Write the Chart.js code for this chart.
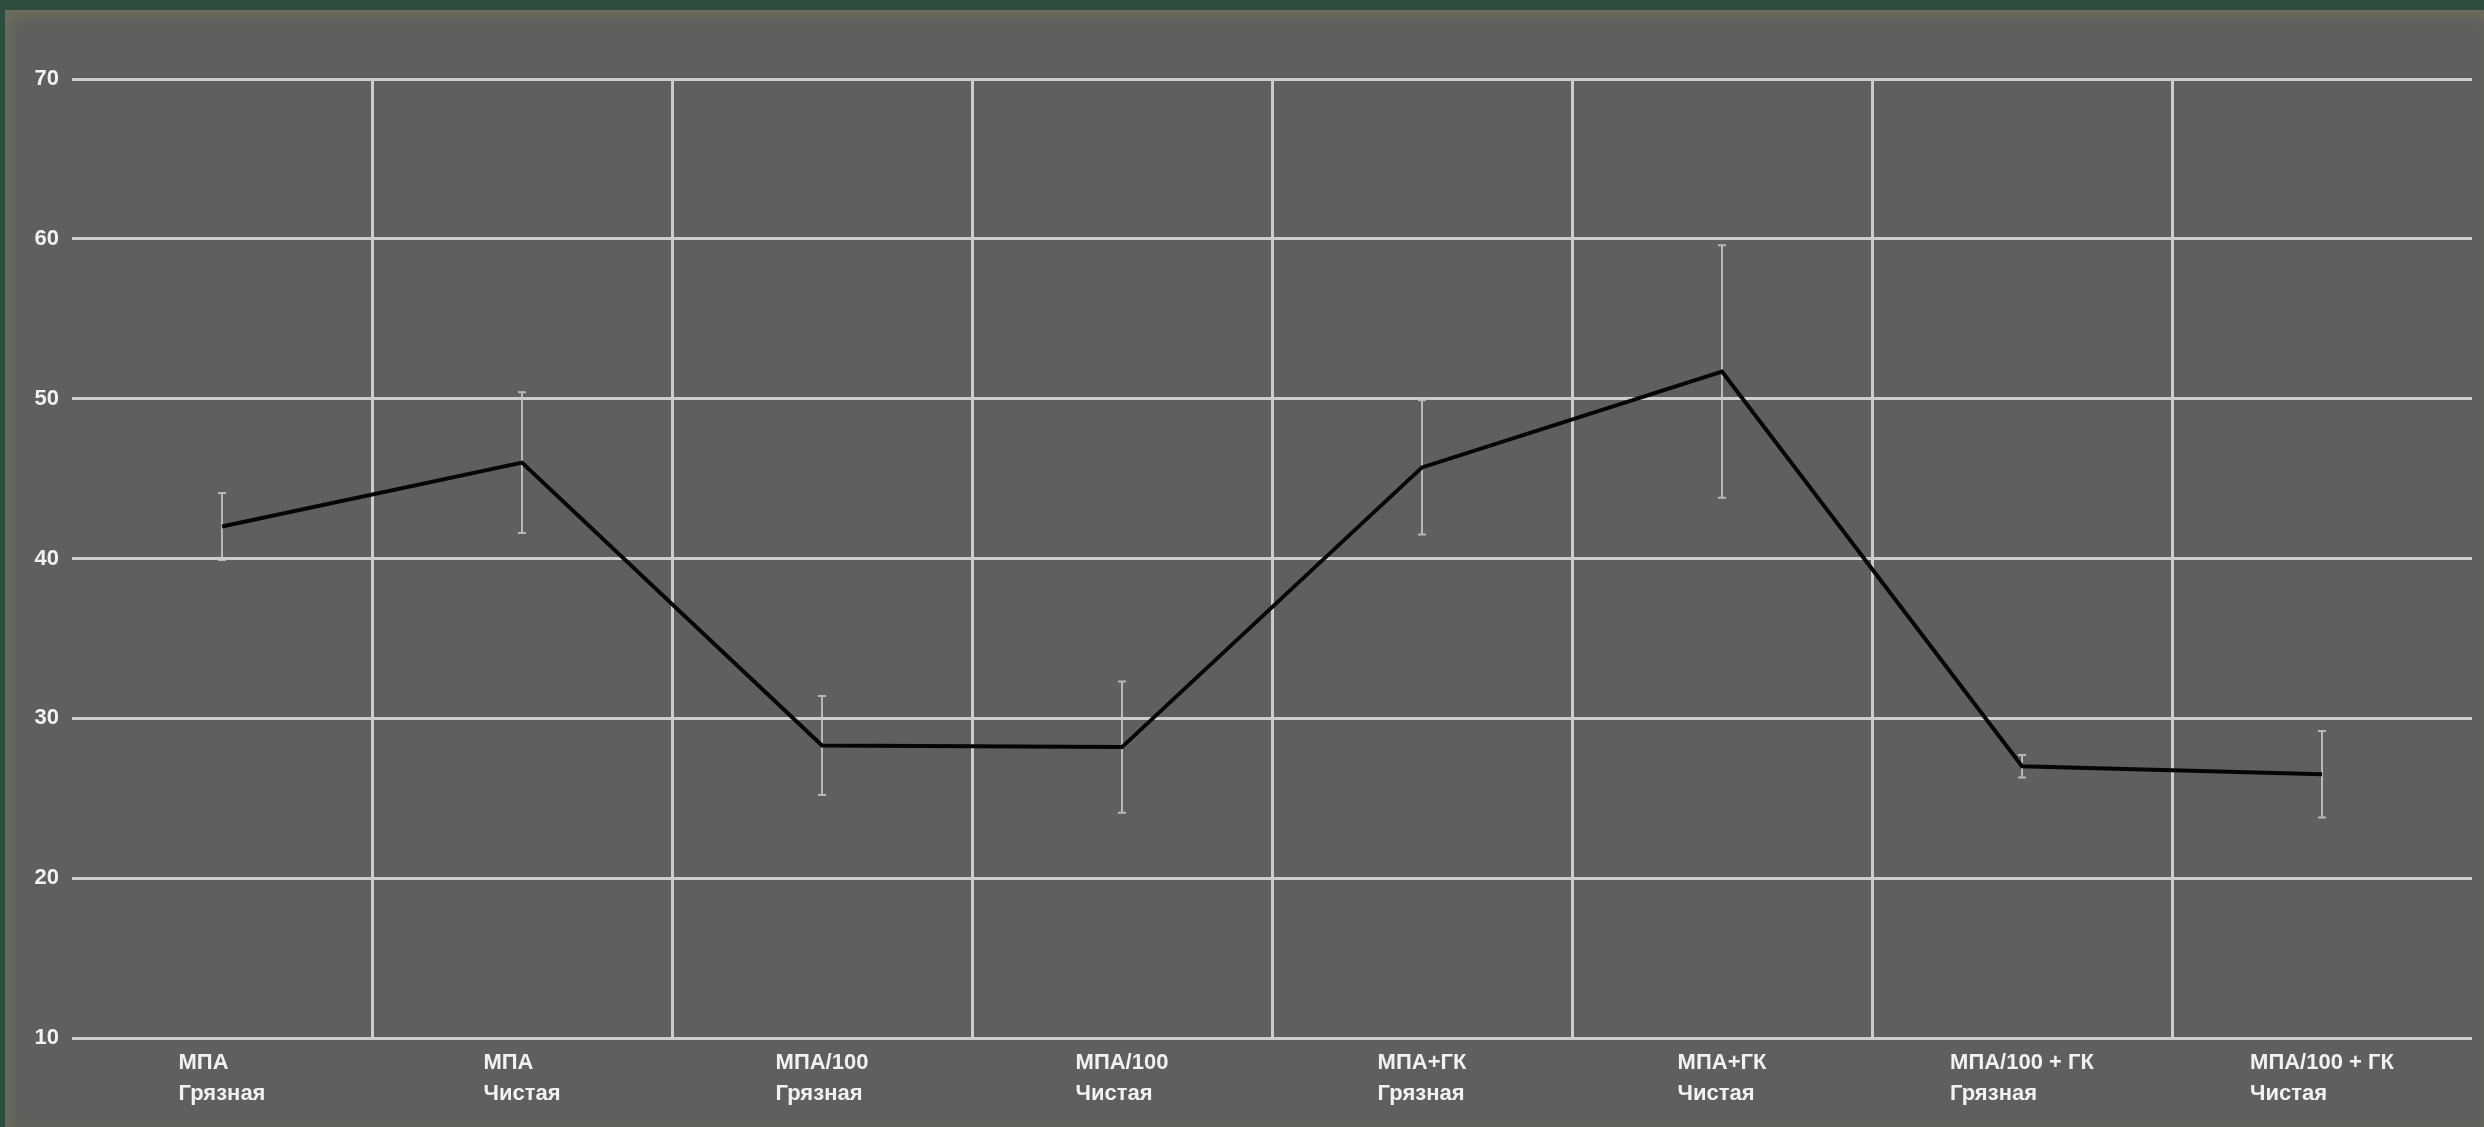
<!DOCTYPE html>
<html>
<head>
<meta charset="utf-8">
<script src="https://cdn.jsdelivr.net/npm/chart.js@4"></script>
<style>
    body {
        margin: 0;
        background: #2e4d3e;
        overflow: hidden;
    }
    .panel {
        position: absolute;
        left: 5px;
        top: 10px;
        right: 0;
        bottom: 0;
        background: #5f5f5f;
        box-shadow: inset 4px 6px 14px rgba(140, 140, 90, 0.35);
    }
    #mainChart {
        position: absolute;
        left: 0;
        top: 0;
    }
</style>
</head>
<body>
<div class="panel"></div>
<canvas id="mainChart" width="2484" height="1127"></canvas>
<script>
// Chart data
const groups = ['МПА', 'МПА', 'МПА/100', 'МПА/100', 'МПА+ГК', 'МПА+ГК', 'МПА/100 + ГК', 'МПА/100 + ГК'];
const surfaces = ['Грязная', 'Чистая', 'Грязная', 'Чистая', 'Грязная', 'Чистая', 'Грязная', 'Чистая'];
const means = [42.0, 46.0, 28.3, 28.2, 45.7, 51.7, 27.0, 26.5];
const errors = [2.1, 4.4, 3.1, 4.1, 4.2, 7.9, 0.7, 2.7];
const yTicks = [10, 20, 30, 40, 50, 60, 70];

const labels = groups.map((g, i) => [g, surfaces[i]]);
const gridColor = '#cdcdcd';
const textColor = '#f2f2f2';
const fontFamily = '"Liberation Sans", Arial, sans-serif';

// Error bars, drawn under the line
const errorBars = {
    id: 'errorBars',
    beforeDatasetsDraw(chart) {
        const c = chart.ctx;
        const x = chart.scales.x;
        const y = chart.scales.y;
        c.save();
        c.strokeStyle = 'rgba(200, 200, 200, 0.85)';
        c.lineWidth = 2;
        means.forEach((m, i) => {
            const px = x.getPixelForValue(i);
            const top = y.getPixelForValue(m + errors[i]);
            const bottom = y.getPixelForValue(m - errors[i]);
            c.beginPath();
            c.moveTo(px, top);
            c.lineTo(px, bottom);
            c.moveTo(px - 4, top);
            c.lineTo(px + 4, top);
            c.moveTo(px - 4, bottom);
            c.lineTo(px + 4, bottom);
            c.stroke();
        });
        c.restore();
    }
};

// Category labels: block centred on the tick, lines left aligned
const categoryLabels = {
    id: 'categoryLabels',
    afterDraw(chart) {
        const c = chart.ctx;
        const x = chart.scales.x;
        const base = chart.chartArea.bottom + 25;
        c.save();
        c.font = 'bold 22px ' + fontFamily;
        c.fillStyle = textColor;
        c.textAlign = 'left';
        c.textBaseline = 'middle';
        labels.forEach((lines, i) => {
            const w = Math.max(...lines.map(l => c.measureText(l).width));
            const left = x.getPixelForValue(i) - w / 2;
            lines.forEach((l, j) => c.fillText(l, left, base + j * 31));
        });
        c.restore();
    }
};

const ctx = document.getElementById('mainChart').getContext('2d');
new Chart(ctx, {
    type: 'line',
    data: {
        labels: labels,
        datasets: [{
            data: means,
            borderColor: '#050505',
            borderWidth: 4,
            pointRadius: 0,
            tension: 0,
            fill: false
        }]
    },
    options: {
        responsive: false,
        animation: false,
        layout: {
            padding: { left: 0, top: 79, right: 12, bottom: 0 }
        },
        plugins: {
            legend: { display: false },
            tooltip: { enabled: false }
        },
        scales: {
            x: {
                offset: true,
                grid: {
                    offset: true,
                    drawTicks: false,
                    lineWidth: 3,
                    color: (c) => (c.type === 'tick' && c.index > 0) ? gridColor : 'transparent'
                },
                border: { display: false },
                ticks: { display: false },
                afterFit: (scale) => { scale.height = 89; }
            },
            y: {
                min: 10,
                max: 70,
                afterBuildTicks: (scale) => {
                    scale.ticks = yTicks.map(v => ({ value: v }));
                },
                grid: {
                    drawTicks: false,
                    lineWidth: 3,
                    color: gridColor
                },
                border: { display: false },
                ticks: {
                    padding: 13,
                    color: textColor,
                    font: { family: fontFamily, size: 22, weight: 'bold' }
                },
                afterFit: (scale) => { scale.width = 72; }
            }
        }
    },
    plugins: [errorBars, categoryLabels]
});
</script>
</body>
</html>
